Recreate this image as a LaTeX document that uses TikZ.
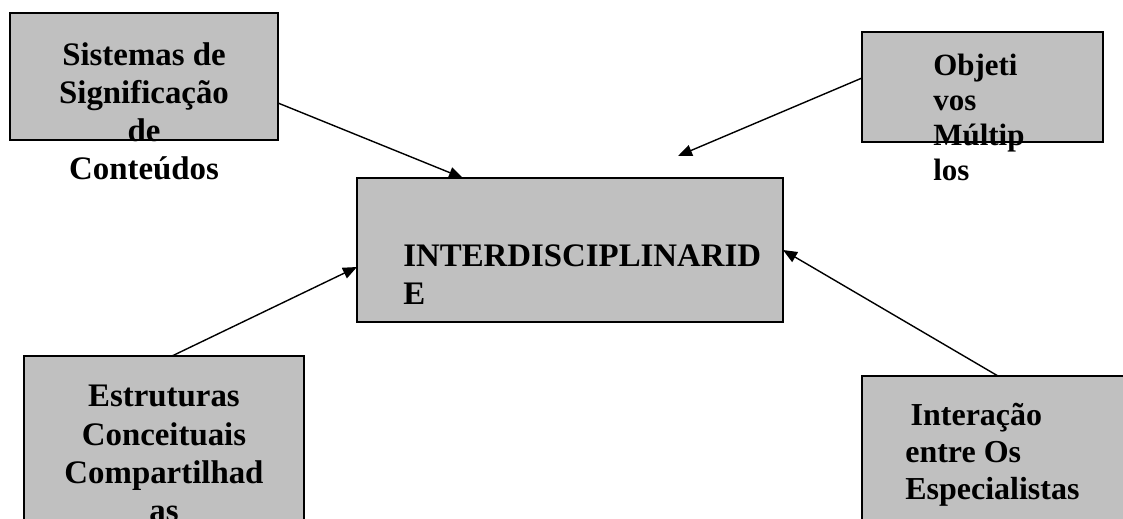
\documentclass[tikz,border=0pt]{standalone}
\usepackage{fontspec}
\setmainfont{Liberation Serif}
\usetikzlibrary{arrows.meta}
\definecolor{boxgray}{HTML}{C0C0C0}
\begin{document}
\begin{tikzpicture}[
  box/.style={draw=black, line width=1.1pt, fill=boxgray, outer sep=0pt, inner sep=0pt},
  lbl/.style={font=\bfseries\fontsize{18.7}{21.7}\selectfont, inner sep=0pt},
  link/.style={line width=0.8pt, -{Triangle[length=8pt,width=6.5pt]}}]
\useasboundingbox (0,0) rectangle (22.46,-10.36);
% the five boxes
\node[box, minimum width=5.36cm, minimum height=2.54cm] (sis) at (2.88,-1.53) {};
\node[box, minimum width=4.82cm, minimum height=2.2cm] (obj) at (19.65,-1.74) {};
\node[box, minimum width=8.52cm, minimum height=2.88cm] (inter) at (11.4,-5.0) {};
\node[box, minimum width=5.6cm, minimum height=4.48cm] (est) at (3.28,-9.36) {};
\node[box, minimum width=5.56cm, minimum height=4.08cm] (esp) at (20.02,-9.56) {};
% texts, they run out of the boxes
\node[lbl, align=center, anchor=north] (sistxt) at (2.88,-0.84) {Sistemas de\\Significação\\de\\Conteúdos};
\node[lbl, align=left, anchor=north west, font=\bfseries\fontsize{17.6}{19.8}\selectfont] (objtxt) at (18.66,-1.08) {Objeti\\vos\\Múltip\\los};
\node[lbl, align=left, anchor=north west] (intertxt) at (8.06,-4.88) {INTERDISCIPLINARID\\E};
\node[lbl, align=center, anchor=north] (esttxt) at (3.28,-7.7) {Estruturas\\Conceituais\\Compartilhad\\as};
\node[lbl, align=left, anchor=north west, font=\bfseries\fontsize{18.2}{21}\selectfont] (esptxt) at (18.1,-8.06) {\,Interação\\entre Os\\Especialistas};
% arrows
\coordinate (objend) at (13.56,-3.12);
\draw[link] ([yshift=-0.53cm]sis.east) -- ([xshift=-2.14cm]inter.north);
\draw[link] ([yshift=0.18cm]obj.west) -- (objend);
\draw[link] ([xshift=0.16cm]est.north) -- ([yshift=-0.34cm]inter.west);
\draw[link] ([xshift=-0.06cm]esp.north) -- (inter.east);
\end{tikzpicture}
\end{document}
